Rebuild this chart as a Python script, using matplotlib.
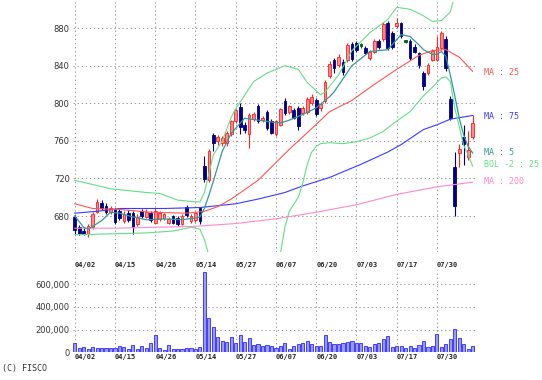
import numpy as np
import matplotlib
matplotlib.use('Agg')
import matplotlib.pyplot as plt
import matplotlib.transforms as mtransforms

# date labels (every 9 trading days)
date_labels = ['04/02', '04/15', '04/26', '05/14', '05/27', '06/07', '06/20', '07/03', '07/17', '07/30']
date_pos = [0, 9, 18, 27, 36, 45, 54, 63, 72, 81]

# daily candles
opens = [679, 668, 664, 661, 668, 684, 694, 691, 684, 687,
         685, 675, 683, 683, 671, 685, 679, 683, 673, 677,
         678, 673, 680, 678, 672, 690, 675, 676, 688, 733,
         718, 766, 760, 758, 758, 767, 781, 796, 777, 767,
         783, 797, 782, 791, 781, 767, 777, 802, 791, 793,
         795, 790, 791, 800, 803, 795, 802, 829, 846, 841,
         844, 846, 863, 864, 862, 859, 848, 855, 866, 868,
         885, 875, 882, 885, 866, 866, 860, 853, 832, 832,
         846, 846, 859, 868, 805, 732, 747, 764, 743, 764]
highs = [681, 670, 667, 671, 684, 698, 697, 694, 691, 689,
         687, 685, 686, 685, 682, 687, 687, 685, 688, 685,
         683, 679, 681, 680, 682, 692, 682, 684, 690, 744,
         751, 768, 766, 765, 770, 782, 794, 800, 780, 790,
         791, 799, 786, 793, 783, 782, 795, 806, 798, 795,
         797, 797, 807, 810, 806, 801, 825, 845, 848, 852,
         847, 864, 865, 866, 864, 861, 857, 868, 868, 886,
         888, 877, 891, 886, 867, 868, 863, 855, 834, 843,
         858, 871, 877, 872, 808, 748, 757, 777, 770, 787]
lows = [661, 660, 660, 658, 666, 683, 686, 682, 682, 671,
        676, 673, 674, 661, 669, 678, 678, 674, 671, 675,
        676, 671, 671, 669, 670, 679, 673, 674, 672, 716,
        716, 749, 756, 755, 754, 765, 779, 767, 768, 752,
        781, 779, 780, 772, 767, 765, 776, 788, 789, 783,
        772, 788, 789, 798, 786, 792, 800, 827, 832, 839,
        830, 844, 845, 855, 859, 852, 846, 853, 858, 866,
        857, 858, 880, 869, 864, 846, 853, 838, 814, 830,
        845, 845, 857, 834, 782, 680, 732, 734, 740, 762]
closes = [665, 662, 661, 669, 682, 695, 688, 684, 688, 674,
          678, 682, 676, 668, 679, 680, 684, 676, 685, 683,
          682, 677, 673, 671, 680, 681, 680, 683, 675, 719,
          749, 758, 764, 763, 768, 781, 793, 775, 772, 788,
          789, 781, 784, 774, 768, 781, 794, 790, 797, 784,
          776, 795, 805, 807, 789, 799, 823, 842, 838, 849,
          833, 862, 847, 857, 862, 853, 855, 866, 860, 884,
          859, 860, 885, 871, 866, 848, 855, 841, 818, 841,
          856, 860, 875, 837, 784, 691, 751, 757, 750, 779]

# volume (thousand shares)
volume = [86, 41, 44, 30, 50, 41, 41, 36, 39, 39,
          53, 44, 33, 68, 33, 59, 41, 83, 154, 39,
          24, 65, 27, 30, 30, 36, 36, 27, 44, 707,
          302, 222, 139, 104, 95, 139, 80, 154, 89, 124,
          65, 74, 59, 62, 59, 41, 59, 86, 27, 56,
          74, 86, 101, 71, 56, 56, 151, 95, 74, 74,
          80, 95, 101, 80, 80, 59, 50, 71, 86, 121,
          145, 50, 59, 59, 41, 53, 36, 68, 101, 50,
          53, 160, 47, 77, 113, 204, 130, 77, 33, 59]
volume = [v * 1000 for v in volume]

# indicator lines (bar index, value)
ma5_x = [0, 2, 3, 6, 8, 10, 13, 16, 20, 24, 27, 28, 29, 30, 31, 32, 33, 35, 38, 41, 44, 46, 48, 51,
         54, 57, 58, 62, 66, 70, 73, 75, 77, 78, 80, 81, 82, 83, 84, 85, 86, 87, 88, 89]
ma5_y = [680, 668, 666, 675, 684, 683, 679, 676, 677, 676, 678, 679, 688, 702, 717, 733, 749, 768, 784, 782,
         780, 779, 782, 788, 795, 807, 812, 840, 855, 857, 873, 871, 862, 857, 852, 852, 855, 850, 830,
         808, 784, 766, 754, 747]
ma25_x = [0, 4, 10, 17, 25, 29, 32, 35, 41, 48, 53, 57, 62, 67, 72, 77, 80, 83, 86, 89]
ma25_y = [693, 688, 687, 684, 683, 685, 690, 698, 718, 751, 773, 791, 803, 820, 836, 851, 856, 857, 849, 834]
ma75_x = [0, 5, 10, 20, 28, 30, 36, 41, 47, 51, 57, 64, 70, 73, 78, 81, 84, 89]
ma75_y = [683, 685, 688, 688, 689, 690, 693, 698, 705, 712, 721, 735, 748, 756, 772, 777, 783, 787]
ma200_x = [0, 9, 18, 27, 36, 45, 54, 63, 72, 81, 89]
ma200_y = [667, 667, 668, 669, 672, 677, 684, 692, 703, 711, 716]
bol_up_x = [0, 8, 16, 19, 23, 27, 28, 29, 30, 31, 33, 35, 36, 40, 43, 47, 50, 52, 55, 56, 59, 62,
            66, 70, 72, 75, 78, 80, 82, 84, 85]
bol_up_y = [718, 709, 705, 704, 697, 695, 695, 705, 725, 745, 760, 785, 794, 823, 832, 840, 836, 822,
            809, 812, 830, 856, 875, 889, 902, 900, 893, 887, 888, 897, 915]
bol_lo_x = [0, 8, 16, 22, 26, 28, 29, 30, 32, 38, 44, 46, 47, 48, 50, 51, 52, 53, 54, 55, 57, 60,
            63, 66, 69, 72, 75, 78, 80, 82, 83, 84, 85, 86, 87, 88, 89]
bol_lo_y = [660, 661, 662, 664, 668, 666, 655, 638, 615, 600, 615, 640, 668, 685, 700, 715, 735, 748,
            754, 757, 758, 757, 759, 763, 770, 781, 791, 808, 817, 827, 828, 823, 795, 775, 755, 745, 733]

line_labels = ['MA : 25', 'MA : 75', 'MA : 5', 'BOL -2 : 25', 'MA : 200']
c_up, c_up_edge, c_down, c_doji = '#ff8c8c', '#ff2020', '#000080', '#006400'
c_ma5, c_ma25, c_ma75, c_ma200, c_bol = '#339999', '#ff5555', '#3a3aff', '#ff88cc', '#66dd88'

W, H = 542, 380
fig = plt.figure(figsize=(W / 100, H / 100), dpi=100)
ax = fig.add_axes([72.5 / W, 1 - 252 / H, 402.4 / W, 250 / H])
axv = fig.add_axes([72.5 / W, 1 - 352.3 / H, 402.4 / W, 82.3 / H])

grid_kw = dict(color='#999999', linewidth=0.7, linestyle=(0, (1.4, 2.8)))

x = np.arange(len(closes))

# candles
for i in x:
    o, h, l, c = opens[i], highs[i], lows[i], closes[i]
    if c > o:
        face, edge = c_up, c_up_edge
    elif c < o:
        face, edge = c_down, c_down
    else:
        face, edge = c_doji, c_doji
    ax.vlines(i, l, h, color=edge, linewidth=0.8, zorder=2)
    ax.bar(i, max(abs(c - o), 1.5), bottom=min(o, c) - (0.75 if c == o else 0), width=0.6,
           color=face, edgecolor=edge, linewidth=0.6, zorder=2)

# indicator lines
ax.plot(ma200_x, ma200_y, color=c_ma200, linewidth=0.8, zorder=3)
ax.plot(ma75_x, ma75_y, color=c_ma75, linewidth=0.8, zorder=3)
ax.plot(ma25_x, ma25_y, color=c_ma25, linewidth=0.8, zorder=3)
ax.plot(bol_up_x, bol_up_y, color=c_bol, linewidth=0.8, zorder=3)
ax.plot(bol_lo_x, bol_lo_y, color=c_bol, linewidth=0.8, zorder=3)
ax.plot(ma5_x, ma5_y, color=c_ma5, linewidth=0.9, zorder=4)

ax.set_xlim(-0.5, 89.5)
ax.set_ylim(641.7, 907.7)
ax.set_yticks([680, 720, 760, 800, 840, 880])
ax.set_xticks(date_pos)
ax.set_xticklabels([])
ax.grid(True, **grid_kw)
ax.set_axisbelow(True)
ax.tick_params(length=0, pad=2, labelsize=6, labelcolor='#333333')

# right-hand legend labels
lab_y = [833, 786, 748, 735, 717]
lab_c = [c_ma25, c_ma75, c_ma5, c_bol, c_ma200]
for txt, yv, col in zip(line_labels, lab_y, lab_c):
    ax.annotate(txt, xy=(1, yv), xycoords=('axes fraction', 'data'), xytext=(6.5, 0),
                textcoords='offset points', ha='left', va='center', fontsize=6,
                family='DejaVu Sans Mono', color=col, annotation_clip=False)

# volume
axv.bar(x, volume, width=0.7, color='#9999ff', edgecolor='#2a2aff', linewidth=0.6, zorder=2)
axv.set_xlim(-0.5, 89.5)
axv.set_ylim(0, 726000)
axv.set_yticks([0, 200000, 400000, 600000])
axv.set_yticklabels(['0', '200,000', '400,000', '600,000'])
axv.set_xticks(date_pos)
axv.set_xticklabels([])
axv.grid(True, **grid_kw)
axv.tick_params(length=0, pad=2, labelsize=6, labelcolor='#333333')

for a in (ax, axv):
    for s in a.spines.values():
        s.set_visible(False)

# date labels above and below the volume panel
trans = mtransforms.blended_transform_factory(axv.transData, fig.transFigure)
for p, lab in zip(date_pos, date_labels):
    for yy in (1 - 265.5 / H, 1 - 357.5 / H):
        fig.text(p, yy, lab, transform=trans, ha='left', va='center', fontsize=5,
                 family='DejaVu Sans Mono', fontweight='bold', color='#222222')

fig.text(2 / W, 1 - 369 / H, '(C) FISCO', ha='left', va='center', fontsize=6,
         family='DejaVu Sans Mono', color='#333333')

fig.savefig('out.png', dpi=100)
